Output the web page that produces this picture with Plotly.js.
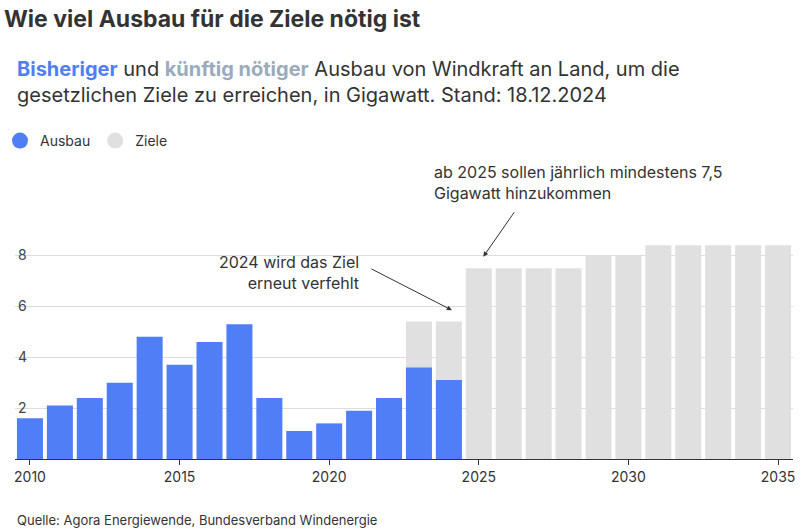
<!DOCTYPE html>
<html><head><meta charset="utf-8">
<script src="https://cdn.plot.ly/plotly-3.0.1.min.js"></script>
<style>body{margin:0}</style></head>
<body><div id="chart" style="width:800px;height:532px"></div>
<script>
const actualYears = [2010,2011,2012,2013,2014,2015,2016,2017,2018,2019,2020,2021,2022,2023,2024];
const actualValues = [1.6,2.1,2.4,3.0,4.8,3.7,4.6,5.3,2.4,1.1,1.4,1.9,2.4,3.6,3.1];
const targetYears = [2023,2024,2025,2026,2027,2028,2029,2030,2031,2032,2033,2034,2035];
const targetValues = [5.4,5.4,7.5,7.5,7.5,7.5,8.0,8.0,8.4,8.4,8.4,8.4,8.4];
const xTicks = [2010,2015,2020,2025,2030,2035];
const yTicks = [2,4,6,8];

const blue = '#4f7ef6', grey = '#e0e0e0', font = 'Inter, Roboto, sans-serif';

const data = [
  {type:'bar', x:targetYears, y:targetValues, marker:{color:grey}, width:0.87, showlegend:false, hoverinfo:'skip'},
  {type:'bar', x:actualYears, y:actualValues, marker:{color:blue}, width:0.87, showlegend:false},
  {type:'scatter', mode:'markers', x:[null], y:[null], name:'Ausbau', marker:{color:blue, size:16, symbol:'circle'}},
  {type:'scatter', mode:'markers', x:[null], y:[null], name:'Ziele', marker:{color:grey, size:16, symbol:'circle'}}
];

const layout = {
  width:800, height:532,
  margin:{l:15, r:7, t:230, b:73},
  paper_bgcolor:'white', plot_bgcolor:'white',
  font:{family:font, color:'#333', size:14},
  barmode:'overlay',
  title:{text:'<b>Wie viel Ausbau für die Ziele nötig ist</b>', x:0.005, xanchor:'left', y:0.965, yref:'container', yanchor:'middle', font:{size:23, color:'#333'}},
  xaxis:{range:[2009.5,2035.5], tickvals:xTicks, showgrid:false, ticks:'outside', ticklen:5, tickcolor:'#333', showline:true, linecolor:'#333', tickfont:{size:14}},
  yaxis:{range:[0,9], tickvals:yTicks, ticklabelposition:'inside', gridcolor:'#ddd', zeroline:false, tickfont:{size:14}},
  legend:{orientation:'h', x:0, xref:'container', y:0.735, yref:'container', yanchor:'middle', font:{size:14}, itemwidth:30},
  annotations:[
    {xref:'paper', yref:'paper', x:0, xanchor:'left', y:(459-82)/229, yanchor:'middle', align:'left', showarrow:false,
     text:'<b><span style="color:'+blue+'">Bisheriger</span></b> und <b><span style="color:#9aabbd">künftig nötiger</span></b> Ausbau von Windkraft an Land, um die<br>gesetzlichen Ziele zu erreichen, in Gigawatt. Stand: 18.12.2024',
     font:{size:20, color:'#333'}},
    {x:2021.05, y:7.33, xanchor:'right', yanchor:'middle', align:'right', showarrow:false,
     text:'2024 wird das Ziel<br>erneut verfehlt', font:{size:16}},
    {x:2024.1, y:5.85, ax:-82, ay:-42, text:'', showarrow:true, arrowhead:2, arrowwidth:1, arrowcolor:'#333'},
    {xref:'paper', yref:'paper', x:(432-15)/778, y:(459-182)/229, xanchor:'left', yanchor:'middle', align:'left', showarrow:false,
     text:'ab 2025 sollen jährlich mindestens 7,5<br>Gigawatt hinzukommen', font:{size:16}},
    {x:2025.15, y:7.95, ax:32, ay:-46, text:'', showarrow:true, arrowhead:2, arrowwidth:1, arrowcolor:'#333'},
    {xref:'paper', yref:'paper', x:0, xanchor:'left', y:(459-520)/229, yanchor:'middle', showarrow:false,
     text:'Quelle: Agora Energiewende, Bundesverband Windenergie', font:{size:13, color:'#333'}}
  ]
};
Plotly.newPlot('chart', data, layout, {displayModeBar:false});
</script></body></html>
